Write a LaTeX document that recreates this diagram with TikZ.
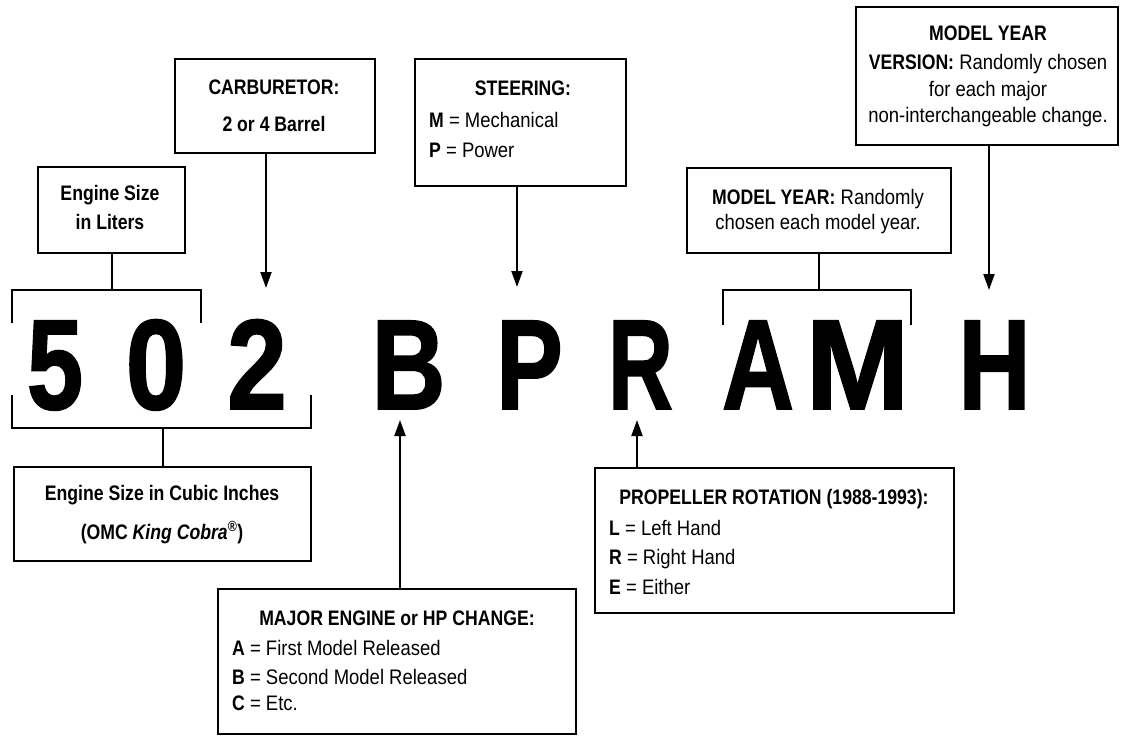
\documentclass[tikz,border=0pt]{standalone}
\usepackage{fontspec}
\setmainfont{Liberation Sans}[UprightFeatures={FakeStretch=0.88}, BoldFeatures={FakeStretch=0.84}, BoldItalicFeatures={FakeStretch=0.84}]
\newfontfamily\bigfont{Liberation Sans Bold}[FakeBold=1.5]
\usetikzlibrary{arrows.meta}
\begin{document}
\begin{tikzpicture}[x=1pt,y=-1pt,
  box/.style={draw, line width=2pt, inner sep=0pt, anchor=north west},
  conn/.style={line width=2pt},
  arr/.style={line width=2pt, -{Triangle[length=16pt,width=11pt]}},
  txt/.style={font=\fontsize{21}{25}\selectfont, inner sep=0pt, anchor=base},
  txtl/.style={txt, anchor=base west},
  big/.style={font=\fontsize{128}{128}\bigfont, inner sep=0pt, anchor=base}]
\useasboundingbox (0,0) rectangle (1122,736);

% boxes
\node[box, minimum width=147pt, minimum height=86pt] (liters) at (37,166) {};
\node[box, minimum width=200pt, minimum height=94pt] (carb) at (174,58) {};
\node[box, minimum width=211pt, minimum height=127pt] (steer) at (414,58) {};
\node[box, minimum width=262pt, minimum height=138pt] (version) at (855,6) {};
\node[box, minimum width=264pt, minimum height=85pt] (myear) at (686,167) {};
\node[box, minimum width=297pt, minimum height=94pt] (cubic) at (13,466) {};
\node[box, minimum width=358pt, minimum height=145pt] (major) at (217,588) {};
\node[box, minimum width=359pt, minimum height=145pt] (prop) at (594,467) {};

% texts
\node[txt] (t1a) at (110,200.5) {\bfseries Engine Size};
\node[txt] (t1b) at (110,229.5) {\bfseries in Liters};
\node[txt] (t2a) at (274,94.5) {\bfseries CARBURETOR:};
\node[txt] (t2b) at (274,131.5) {\bfseries 2 or 4 Barrel};
\node[txt] (t3a) at (523,95.5) {\bfseries STEERING:};
\node[txtl] (t3b) at (429,127.5) {\textbf{M} = Mechanical};
\node[txtl] (t3c) at (429,157.5) {\textbf{P} = Power};
\node[txt] (t4a) at (988,40.5) {\bfseries MODEL YEAR};
\node[txt] (t4b) at (988,69.5) {\textbf{VERSION:} Randomly chosen};
\node[txt] (t4c) at (988,96.5) {for each major};
\node[txt] (t4d) at (988,122.5) {non-interchangeable change.};
\node[txt] (t5a) at (818,204.5) {\textbf{MODEL YEAR:} Randomly};
\node[txt] (t5b) at (818,229.5) {chosen each model year.};
\node[txt] (t6a) at (162,500.5) {\bfseries Engine Size in Cubic Inches};
\node[txt] (t6b) at (162,539.5) {\bfseries (OMC \textit{King Cobra}\textsuperscript{®})};
\node[txt] (t7a) at (397,625.5) {\bfseries MAJOR ENGINE or HP CHANGE:};
\node[txtl] (t7b) at (232,655.5) {\textbf{A} = First Model Released};
\node[txtl] (t7c) at (232,684.5) {\textbf{B} = Second Model Released};
\node[txtl] (t7d) at (232,710.5) {\textbf{C} = Etc.};
\node[txt] (t8a) at (774,504.5) {\bfseries PROPELLER ROTATION (1988-1993):};
\node[txtl] (t8b) at (609,535.5) {\textbf{L} = Left Hand};
\node[txtl] (t8c) at (609,564.5) {\textbf{R} = Right Hand};
\node[txtl] (t8d) at (609,594.5) {\textbf{E} = Either};

% big code letters
\node[big] (d5) at (55,409) {\scalebox{0.79}[1]{5}};
\node[big] (d0) at (156,409) {\scalebox{0.85}[1]{0}};
\node[big] (d2) at (257,409) {\scalebox{0.84}[1]{2}};
\node[big] (lB) at (408.5,409) {\scalebox{0.8}[1]{B}};
\node[big] (lP) at (529.5,409) {\scalebox{0.78}[1]{P}};
\node[big] (lR) at (640.5,409) {\scalebox{0.7}[1]{R}};
\node[big] (lA) at (758,409) {\scalebox{0.78}[1]{A}};
\node[big] (lM) at (857.5,409) {\scalebox{0.97}[1]{M}};
\node[big] (lH) at (994.5,409) {\scalebox{0.78}[1]{H}};

% brackets
\coordinate (ub1) at (12,323); \coordinate (ub2) at (12,290);
\coordinate (ub3) at (201,290); \coordinate (ub4) at (201,323);
\draw[conn] (ub1) -- (ub2) -- (ub3) -- (ub4);
\draw[conn] (liters.south) -- (liters.south |- ub2);

\coordinate (lb1) at (12,395); \coordinate (lb2) at (12,428);
\coordinate (lb3) at (311,428); \coordinate (lb4) at (311,395);
\draw[conn] (lb1) -- (lb2) -- (lb3) -- (lb4);
\draw[conn] (cubic.north) -- (cubic.north |- lb2);

\coordinate (ab1) at (723,325); \coordinate (ab2) at (723,290);
\coordinate (ab3) at (911,290); \coordinate (ab4) at (911,325);
\draw[conn] (ab1) -- (ab2) -- (ab3) -- (ab4);
\draw[conn] (myear.south) -- (myear.south |- ab2);

% arrows
\coordinate (carbtip) at (266,288);
\draw[arr] (carbtip |- carb.south) -- (carbtip);
\coordinate (steertip) at (517,287);
\draw[arr] (steertip |- steer.south) -- (steertip);
\coordinate (vertip) at (989,290);
\draw[arr] (vertip |- version.south) -- (vertip);
\coordinate (btip) at (400,420);
\draw[arr] (btip |- major.north) -- (btip);
\coordinate (rtip) at (637,420);
\draw[arr] (rtip |- prop.north) -- (rtip);
\end{tikzpicture}
\end{document}
